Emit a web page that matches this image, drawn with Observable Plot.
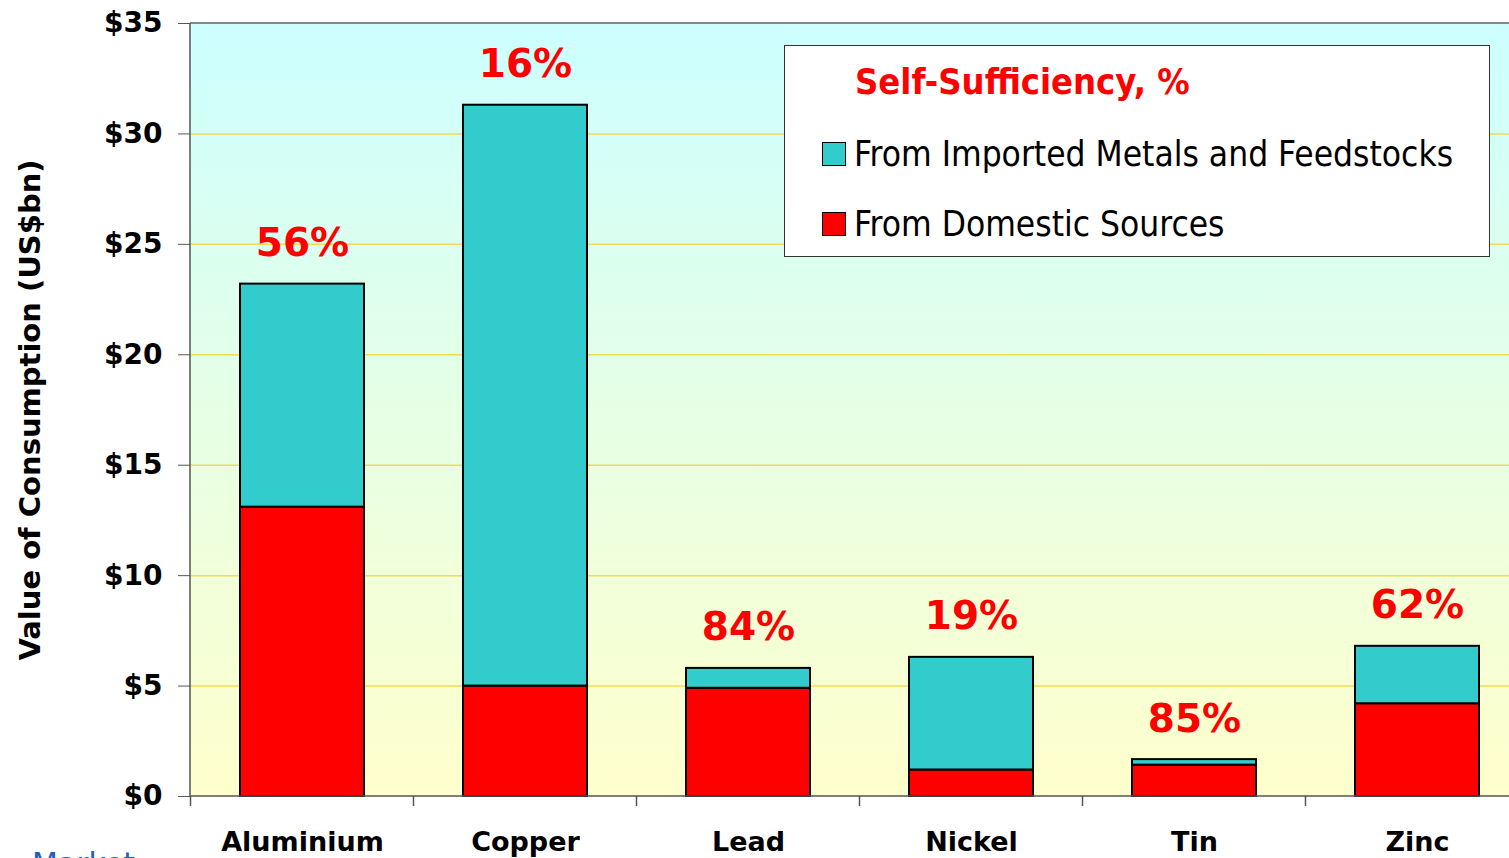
<!DOCTYPE html>
<html><head><meta charset="utf-8">
<script src="https://cdn.jsdelivr.net/npm/d3@7"></script>
<script src="https://cdn.jsdelivr.net/npm/@observablehq/plot@0.6"></script>
<style>
html,body{margin:0;padding:0;background:#fff;overflow:hidden;width:1509px;height:858px}
#wrap{position:relative;width:1509px;height:858px;overflow:hidden}
#chart svg{display:block;max-width:none}
#legend{position:absolute;left:784px;top:45px;width:704px;height:210px;background:#fff;border:1px solid #333;box-sizing:content-box;font-family:"DejaVu Sans Condensed","Liberation Sans Narrow","DejaVu Sans",sans-serif}
#legend .title{position:absolute;left:70px;top:15px;color:#FF0000;font-weight:bold;font-size:36px;white-space:nowrap}
#legend .item{position:absolute;left:37px;white-space:nowrap;font-size:35px;color:#000;display:flex;align-items:center}
#legend .sw{display:inline-block;width:22px;height:22px;border:1.5px solid #000;margin-right:8px}
#source{position:absolute;left:32px;top:846px;color:#1F5FBF;font-family:"DejaVu Sans",sans-serif;font-size:30px;white-space:nowrap}
</style></head><body>
<div id="wrap"><div id="chart"></div><div id="legend"></div><div id="source">Market</div></div>
<script>
const metals = ["Aluminium", "Copper", "Lead", "Nickel", "Tin", "Zinc"];
const domestic = [13.1, 5.0, 4.9, 1.2, 1.42, 4.2];
const imported = [10.1, 26.3, 0.9, 5.1, 0.25, 2.6];
const selfSufficiency = [56, 16, 84, 19, 85, 62];
const yTicks = [0, 5, 10, 15, 20, 25, 30, 35];
const seriesNames = ["From Domestic Sources", "From Imported Metals and Feedstocks"];
const seriesColors = ["#FF0000", "#33CCCC"];
const legendTitle = "Self-Sufficiency, %";
const yTitle = "Value of Consumption (US$bn)";

const rows = [];
metals.forEach((m, i) => {
  rows.push({metal: m, series: seriesNames[0], value: domestic[i]});
  rows.push({metal: m, series: seriesNames[1], value: imported[i]});
});
const totals = metals.map((m, i) => ({metal: m, total: domestic[i] + imported[i], pct: selfSufficiency[i]}));

function background(index, scales, values, dims) {
  const g = d3.create("svg:g");
  const lg = g.append("defs").append("linearGradient").attr("id", "bgGrad")
    .attr("x1", 0).attr("y1", 0).attr("x2", 0).attr("y2", 1);
  lg.append("stop").attr("offset", "0%").attr("stop-color", "#CCFFFF");
  lg.append("stop").attr("offset", "100%").attr("stop-color", "#FFFFCC");
  const x0 = dims.marginLeft, y0 = dims.marginTop;
  const w = dims.width - dims.marginLeft - dims.marginRight;
  const h = dims.height - dims.marginTop - dims.marginBottom;
  g.append("rect").attr("x", x0).attr("y", y0).attr("width", w).attr("height", h).attr("fill", "url(#bgGrad)");
  g.append("line").attr("x1", x0).attr("x2", x0 + w).attr("y1", y0).attr("y2", y0).attr("stroke", "#888").attr("stroke-width", 2);
  return g.node();
}

function frameLines(index, scales, values, dims) {
  const g = d3.create("svg:g");
  const x0 = dims.marginLeft, y0 = dims.marginTop, y1 = dims.height - dims.marginBottom;
  g.append("line").attr("x1", x0).attr("x2", x0).attr("y1", y0).attr("y2", y1).attr("stroke", "#555").attr("stroke-width", 1.5);
  g.append("line").attr("x1", x0).attr("x2", dims.width).attr("y1", y1).attr("y2", y1).attr("stroke", "#555").attr("stroke-width", 1.5);
  const x = scales.x;
  const bw = typeof x.bandwidth === "function" ? x.bandwidth() : scales.scales.x.bandwidth;
  const step = typeof x.step === "function" ? x.step() : scales.scales.x.step;
  const centers = metals.map(m => x(m) + bw / 2);
  const bounds = centers.map(c => c - step / 2).concat([centers[centers.length - 1] + step / 2]);
  bounds.forEach(b => {
    g.append("line").attr("x1", b).attr("x2", b).attr("y1", y1).attr("y2", y1 + 10).attr("stroke", "#555").attr("stroke-width", 1.5);
  });
  return g.node();
}

const W = 1509, H = 858;
const chart = Plot.plot({
  width: W, height: H,
  marginLeft: 190, marginRight: 0, marginTop: 23, marginBottom: 62,
  style: {fontFamily: "'DejaVu Sans', sans-serif", fontWeight: "bold", fontSize: "27px", color: "#000", background: "transparent", overflow: "visible"},
  x: {domain: metals, range: [190, 1528], paddingInner: 0.444, paddingOuter: 0.222, label: null},
  y: {domain: [0, 35], label: null},
  color: {domain: seriesNames, range: seriesColors},
  marks: [
    background,
    Plot.ruleY(yTicks.filter(d => d > 0 && d < 35), {stroke: "#F0DC50", strokeWidth: 1.5}),
    Plot.barY(rows, {x: "metal", y: "value", fill: "series", stroke: "#000", strokeWidth: 2}),
    Plot.text(totals, {x: "metal", y: "total", text: d => d.pct + "%", fill: "#FF0000", fontSize: 39, fontWeight: "bold", lineAnchor: "bottom", dy: -28}),
    frameLines,
    Plot.axisY({ticks: yTicks, tickFormat: d => "$" + d, tickSize: 12, tickPadding: 16, stroke: "#555", fill: "#000", fontSize: 28, fontWeight: "bold", label: null}),
    Plot.axisX({tickSize: 0, tickPadding: 35, fontSize: 27, fontWeight: "bold", fill: "#000", label: null}),
    Plot.text([yTitle], {frameAnchor: "left", textAnchor: "middle", rotate: -90, dx: -160, fontSize: 29, fontWeight: "bold", fill: "#000"})
  ]
});
document.getElementById("chart").appendChild(chart);

const legend = d3.select("#legend");
legend.append("div").attr("class", "title").text(legendTitle);
const order = [1, 0];
order.forEach((si, k) => {
  const it = legend.append("div").attr("class", "item").style("top", (k === 0 ? 88 : 158) + "px");
  it.append("span").attr("class", "sw").style("background", seriesColors[si]);
  it.append("span").text(seriesNames[si]);
});
</script>
</body></html>
